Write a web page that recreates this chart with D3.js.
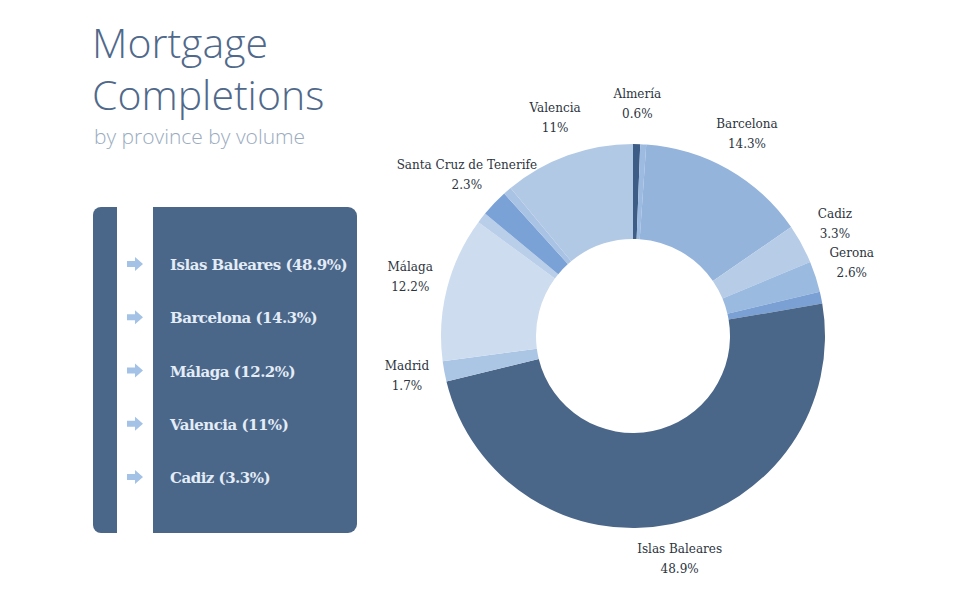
<!DOCTYPE html>
<html>
<head>
<meta charset="utf-8">
<script src="https://cdn.jsdelivr.net/npm/d3@7"></script>
<style>
  body { margin: 0; background: #fff; }
</style>
</head>
<body>
<svg id="chart" width="960" height="600"></svg>
<script>
// slices clockwise from 12 o'clock; empty name = unlabelled sliver
var provinces = ["Almería", "", "Barcelona", "Cadiz", "Gerona", "", "Islas Baleares", "Madrid", "Málaga", "", "Santa Cruz de Tenerife", "", "Valencia"];
var shares = [0.6, 0.5, 14.3, 3.3, 2.6, 1.0, 48.9, 1.7, 12.2, 0.9, 2.3, 0.7, 11];
var shareLabels = ["0.6%", "", "14.3%", "3.3%", "2.6%", "", "48.9%", "1.7%", "12.2%", "", "2.3%", "", "11%"];
var sliceColors = ["#3d5d86", "#9dbbe0", "#94b4dc", "#b6cce7", "#9bbae0", "#7aa0d4", "#4a6688", "#abc5e5", "#cddcee", "#b9cee9", "#7ba2d6", "#a9c3e5", "#b2c9e6"];
var topList = ["Islas Baleares (48.9%)", "Barcelona (14.3%)", "Málaga (12.2%)", "Valencia (11%)", "Cadiz (3.3%)"];

var svg = d3.select("#chart");

// title
svg.append("text").attr("x", 92).attr("y", 58)
    .style("font-family", "Open Sans").style("font-weight", 300)
    .style("font-size", "41px").style("fill", "#50698b").text("Mortgage");
svg.append("text").attr("x", 92).attr("y", 110)
    .style("font-family", "Open Sans").style("font-weight", 300)
    .style("font-size", "41px").style("fill", "#50698b").text("Completions");
svg.append("text").attr("x", 94).attr("y", 144)
    .style("font-family", "Open Sans").style("font-weight", 300)
    .style("font-size", "21px").style("fill", "#9aabc0").text("by province by volume");

// top-five panel
var panel = svg.append("g");
panel.append("rect").attr("x", 93).attr("y", 207).attr("width", 40).attr("height", 326)
    .attr("rx", 8).style("fill", "#4a6688");
panel.append("rect").attr("x", 117).attr("y", 207).attr("width", 36).attr("height", 326)
    .style("fill", "#fff");
panel.append("rect").attr("x", 140).attr("y", 207).attr("width", 217).attr("height", 326)
    .attr("rx", 9).style("fill", "#4a6688");
panel.append("rect").attr("x", 153).attr("y", 207).attr("width", 20).attr("height", 326)
    .style("fill", "#4a6688");
panel.append("rect").attr("x", 140).attr("y", 207).attr("width", 13).attr("height", 326)
    .style("fill", "#fff");

var listY = d3.scalePoint().domain(topList).range([264, 477]);
var rows = panel.selectAll(".row").data(topList).enter().append("g")
    .attr("transform", function (d) { return "translate(0," + listY(d) + ")"; });
rows.append("path")
    .attr("d", "M127,-3 L135,-3 L135,-7 L143,0 L135,7 L135,3 L127,3 Z")
    .style("fill", "#a3c2e6");
rows.append("text").attr("x", 170).attr("y", 6)
    .style("font-family", "DejaVu Serif").style("font-weight", "bold")
    .style("font-size", "15px").style("letter-spacing", "-0.5px")
    .style("fill", "#e3ecf7").text(function (d) { return d; });

// donut
var cx = 633, cy = 336, outerR = 192, innerR = 97;
var pie = d3.pie().sort(null).value(function (d) { return d; });
var arc = d3.arc().innerRadius(innerR).outerRadius(outerR);
var labelArc = d3.arc().innerRadius(outerR + 38).outerRadius(outerR + 38);
var arcs = pie(shares);

var g = svg.append("g").attr("transform", "translate(" + cx + "," + cy + ")");
g.selectAll(".slice").data(arcs).enter().append("path")
    .attr("d", arc)
    .style("fill", function (d, i) { return sliceColors[i]; });

var labels = g.selectAll(".lbl").data(arcs.filter(function (d, i) { return provinces[i] !== ""; }))
    .enter().append("text")
    .attr("transform", function (d) { var c = labelArc.centroid(d); return "translate(" + c[0] + "," + (c[1] - 8) + ")"; })
    .attr("text-anchor", "middle")
    .style("font-family", "DejaVu Serif").style("font-size", "12px").style("fill", "#2c3440");
labels.append("tspan").attr("x", 0).attr("dy", 0).text(function (d) { return provinces[d.index]; });
labels.append("tspan").attr("x", 0).attr("dy", 20).text(function (d) { return shareLabels[d.index]; });
</script>
</body>
</html>
